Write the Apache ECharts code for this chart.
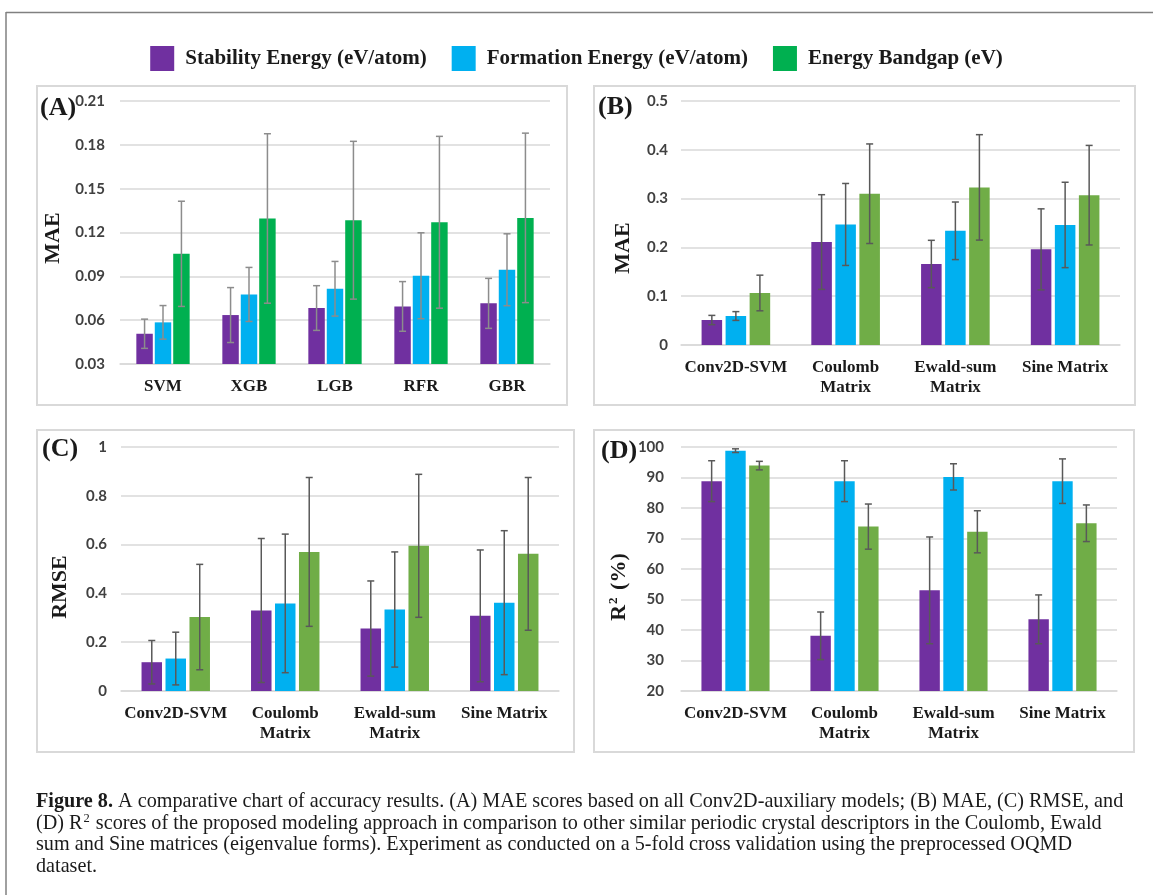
<!DOCTYPE html>
<html>
<head>
<meta charset="utf-8">
<script src="https://cdn.jsdelivr.net/npm/echarts@6/dist/echarts.min.js"></script>
<style>
html,body{margin:0;padding:0;background:#fff;}
#chart{width:1153px;height:895px;}
</style>
</head>
<body>
<div id="chart"></div>
<script>
// ---------- DATA ----------
const seriesNames = ['Stability Energy (eV/atom)', 'Formation Energy (eV/atom)', 'Energy Bandgap (eV)'];
const categoriesA = ['SVM', 'XGB', 'LGB', 'RFR', 'GBR'];
const categoriesBCD = ['Conv2D-SVM', 'Coulomb\nMatrix', 'Ewald-sum\nMatrix', 'Sine Matrix'];

// (A) MAE, Conv2D-auxiliary models
const maeA_stability = [0.0507, 0.0635, 0.0683, 0.0694, 0.0715];
const maeA_stability_err = [0.0100, 0.0188, 0.0153, 0.0170, 0.0171];
const maeA_formation = [0.0585, 0.0776, 0.0815, 0.0904, 0.0945];
const maeA_formation_err = [0.0115, 0.0185, 0.0187, 0.0294, 0.0246];
const maeA_bandgap = [0.1054, 0.1296, 0.1284, 0.1270, 0.1300];
const maeA_bandgap_err = [0.0360, 0.0580, 0.0540, 0.0588, 0.0580];
const ticksA = [0.03, 0.06, 0.09, 0.12, 0.15, 0.18, 0.21];

// (B) MAE, descriptors
const maeB_stability = [0.0512, 0.211, 0.166, 0.196];
const maeB_stability_err = [0.0095, 0.097, 0.0485, 0.083];
const maeB_formation = [0.0594, 0.247, 0.234, 0.246];
const maeB_formation_err = [0.0090, 0.084, 0.059, 0.0875];
const maeB_bandgap = [0.1066, 0.310, 0.323, 0.307];
const maeB_bandgap_err = [0.0365, 0.102, 0.108, 0.102];
const ticksB = [0, 0.1, 0.2, 0.3, 0.4, 0.5];

// (C) RMSE
const rmseC_stability = [0.118, 0.330, 0.256, 0.308];
const rmseC_stability_err = [0.089, 0.295, 0.195, 0.270];
const rmseC_formation = [0.133, 0.359, 0.334, 0.362];
const rmseC_formation_err = [0.108, 0.284, 0.236, 0.295];
const rmseC_bandgap = [0.303, 0.570, 0.595, 0.562];
const rmseC_bandgap_err = [0.216, 0.305, 0.293, 0.313];
const ticksC = [0, 0.2, 0.4, 0.6, 0.8, 1];

// (D) R2 (%)
const r2D_stability = [88.8, 38.1, 53.0, 43.5];
const r2D_stability_err = [6.7, 7.8, 17.5, 8.0];
const r2D_formation = [98.8, 88.8, 90.2, 88.8];
const r2D_formation_err = [0.6, 6.7, 4.3, 7.3];
const r2D_bandgap = [93.9, 73.9, 72.2, 75.0];
const r2D_bandgap_err = [1.4, 7.4, 6.9, 6.0];
const ticksD = [20, 30, 40, 50, 60, 70, 80, 90, 100];

// ---------- STYLE ----------
const PURPLE = '#7030A0', BLUE = '#00B0F0', GREEN_A = '#00B050', GREEN = '#70AD47';
const SERIF = '"Liberation Serif", "Times New Roman", serif';
const SANS = 'Lato, "Open Sans", sans-serif';
const GRIDLINE = '#d9d9d9';

const panels = [
  { cats: categoriesA, means: [maeA_stability, maeA_formation, maeA_bandgap],
    errs: [maeA_stability_err, maeA_formation_err, maeA_bandgap_err], ticks: ticksA,
    colors: [PURPLE, BLUE, GREEN_A], errColor: '#8c8c8c',
    grid: { left: 120, top: 101, width: 430, height: 263 }, labelMargin: 15,
    catGap: 0.38, barGap: 0.12, fmt: v => v.toFixed(2) },
  { cats: categoriesBCD, means: [maeB_stability, maeB_formation, maeB_bandgap],
    errs: [maeB_stability_err, maeB_formation_err, maeB_bandgap_err], ticks: ticksB,
    colors: [PURPLE, BLUE, GREEN], errColor: '#595959',
    grid: { left: 681, top: 101, width: 439, height: 244 }, labelMargin: 13,
    catGap: 0.375, barGap: 0.17, fmt: v => String(+v.toFixed(2)) },
  { cats: categoriesBCD, means: [rmseC_stability, rmseC_formation, rmseC_bandgap],
    errs: [rmseC_stability_err, rmseC_formation_err, rmseC_bandgap_err], ticks: ticksC,
    colors: [PURPLE, BLUE, GREEN], errColor: '#595959',
    grid: { left: 121, top: 447, width: 438, height: 244 }, labelMargin: 14,
    catGap: 0.375, barGap: 0.17, fmt: v => String(+v.toFixed(2)) },
  { cats: categoriesBCD, means: [r2D_stability, r2D_formation, r2D_bandgap],
    errs: [r2D_stability_err, r2D_formation_err, r2D_bandgap_err], ticks: ticksD,
    colors: [PURPLE, BLUE, GREEN], errColor: '#595959',
    grid: { left: 681, top: 447, width: 436, height: 244 }, labelMargin: 17,
    catGap: 0.375, barGap: 0.17, fmt: v => String(v) }
];

const grids = [], xAxes = [], yAxes = [], series = [];
panels.forEach((p, i) => {
  grids.push(Object.assign({ containLabel: false }, p.grid));
  xAxes.push({
    type: 'category', gridIndex: i, data: p.cats,
    axisLine: { lineStyle: { color: GRIDLINE, width: 1.5 } },
    axisTick: { show: false },
    axisLabel: { interval: 0, margin: 13, color: '#1a1a1a', fontFamily: SERIF,
      fontWeight: 'bold', fontSize: 17, lineHeight: 20 }
  });
  const t = p.ticks;
  yAxes.push({
    type: 'value', gridIndex: i, min: t[0], max: t[t.length - 1],
    interval: +(t[1] - t[0]).toFixed(6),
    axisLine: { show: false }, axisTick: { show: false },
    splitLine: { lineStyle: { color: GRIDLINE, width: 1.5 } },
    axisLabel: { margin: p.labelMargin, color: '#404040', fontFamily: SANS,
      fontWeight: 'bold', fontSize: 15, formatter: p.fmt }
  });
  p.means.forEach((m, s) => {
    series.push({
      type: 'bar', name: seriesNames[s], xAxisIndex: i, yAxisIndex: i,
      data: m, itemStyle: { color: p.colors[s] },
      barCategoryGap: (p.catGap * 100) + '%', barGap: (p.barGap * 100) + '%',
      silent: true
    });
  });
  const errData = [];
  p.means.forEach((m, s) => m.forEach((v, j) => errData.push([j, v, p.errs[s][j], s])));
  const catGap = p.catGap, bGap = p.barGap, col = p.errColor;
  series.push({
    type: 'custom', xAxisIndex: i, yAxisIndex: i, data: errData, z: 10, silent: true,
    encode: { x: 0, y: 1 },
    renderItem: function (params, api) {
      const j = api.value(0), m = api.value(1), e = api.value(2), s = api.value(3);
      const band = api.size([1, 0])[0];
      const n = 3;
      const bw = band * (1 - catGap) / (n + (n - 1) * bGap);
      const total = n * bw + (n - 1) * bGap * bw;
      const cx = api.coord([j, m])[0] - total / 2 + s * bw * (1 + bGap) + bw / 2;
      const yt = api.coord([j, m + e])[1], yb = api.coord([j, m - e])[1];
      const cap = 3.5;
      const st = { stroke: col, lineWidth: 1.5 };
      return { type: 'group', children: [
        { type: 'line', shape: { x1: cx, y1: yt, x2: cx, y2: yb }, style: st },
        { type: 'line', shape: { x1: cx - cap, y1: yt, x2: cx + cap, y2: yt }, style: st },
        { type: 'line', shape: { x1: cx - cap, y1: yb, x2: cx + cap, y2: yb }, style: st }
      ]};
    }
  });
});

// ---------- decorations ----------
const boxes = [[37, 86, 530, 319], [594, 86, 541, 319], [37, 430, 537, 322], [594, 430, 540, 322]];
const panelLabels = [['(A)', 40, 108], ['(B)', 598, 107], ['(C)', 42, 449], ['(D)', 601, 451]];
const axisNames = [['MAE', 53, 238], ['MAE', 623, 248], ['RMSE', 60, 587], ['R{sup|2} (%)', 619, 587]];

const graphic = [];
graphic.push({ type: 'line', shape: { x1: 6, y1: 12.5, x2: 1153, y2: 12.5 }, style: { stroke: '#808080', lineWidth: 1.5 }, silent: true });
graphic.push({ type: 'line', shape: { x1: 6, y1: 12, x2: 6, y2: 895 }, style: { stroke: '#808080', lineWidth: 1.5 }, silent: true });
boxes.forEach(b => graphic.push({ type: 'rect', shape: { x: b[0], y: b[1], width: b[2], height: b[3] },
  style: { fill: 'none', stroke: '#d9d9d9', lineWidth: 2 }, silent: true, z: -1 }));
panelLabels.forEach(l => graphic.push({ type: 'text', x: l[1], y: l[2], silent: true,
  style: { text: l[0], fill: '#1a1a1a', font: 'bold 26px ' + SERIF, verticalAlign: 'middle', align: 'left' } }));
axisNames.forEach(a => graphic.push({ type: 'text', x: a[1], y: a[2], rotation: Math.PI / 2, silent: true,
  style: { text: a[0], fill: '#1a1a1a', font: 'bold 22px ' + SERIF, align: 'center', verticalAlign: 'middle',
    rich: { sup: { fontFamily: SERIF, fontWeight: 'bold', fontSize: 13, fill: '#1a1a1a', verticalAlign: 'top', padding: [0, 2, 10, 1] } } } }));

const captionLines = [
  '{b|Figure 8.} A comparative chart of accuracy results. (A) MAE scores based on all Conv2D-auxiliary models; (B) MAE, (C) RMSE, and',
  '(D) R{sup|2} scores of the proposed modeling approach in comparison to other similar periodic crystal descriptors in the Coulomb, Ewald',
  'sum and Sine matrices (eigenvalue forms). Experiment as conducted on a 5-fold cross validation using the preprocessed OQMD',
  'dataset.'
];
const capY = [802, 823.5, 845, 866.5];
captionLines.forEach((t, k) => graphic.push({ type: 'text', x: 36, y: capY[k], silent: true,
  style: { text: t, fill: '#1a1a1a', font: '20.2px ' + SERIF, verticalAlign: 'middle', align: 'left',
    rich: { b: { fontFamily: SERIF, fontWeight: 'bold', fontSize: 20.2, fill: '#1a1a1a' },
            sup: { fontFamily: SERIF, fontSize: 12.5, fill: '#1a1a1a', padding: [0, 1, 9, 1] } } } }));

const chart = echarts.init(document.getElementById('chart'), null, { renderer: 'canvas' });
chart.setOption({
  backgroundColor: '#fff',
  animation: false,
  legend: {
    data: seriesNames, left: 'center', top: 41, itemWidth: 24, itemHeight: 25, itemGap: 25,
    icon: 'rect',
    textStyle: { fontFamily: SERIF, fontWeight: 'bold', fontSize: 21, color: '#1a1a1a', padding: [0, 0, 0, 6] }
  },
  grid: grids, xAxis: xAxes, yAxis: yAxes, series: series, graphic: graphic
});
</script>
</body>
</html>
